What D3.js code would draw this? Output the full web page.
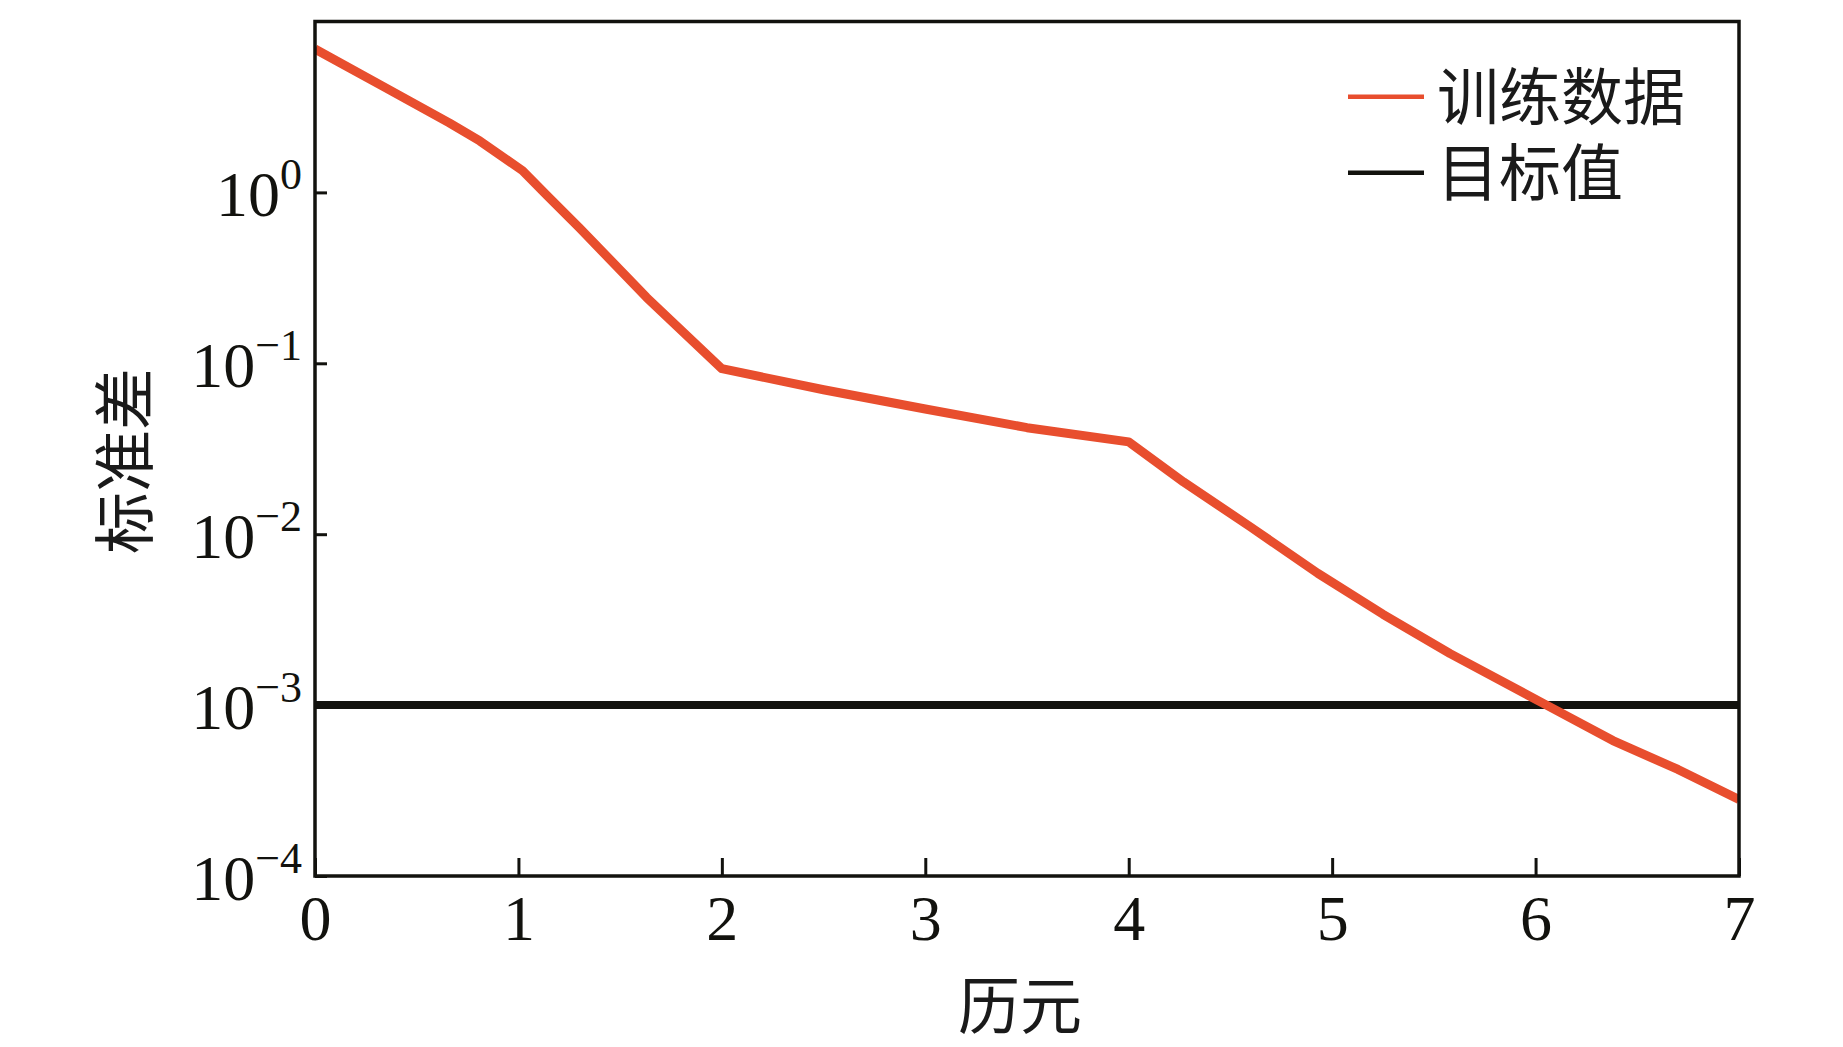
<!DOCTYPE html>
<html>
<head>
<meta charset="utf-8">
<script src="https://cdn.jsdelivr.net/npm/d3@7"></script>
<style>
  body { margin: 0; background: #fff; }
</style>
</head>
<body>
<script>
// values
var epochs   = [0, 0.33, 0.66, 0.81, 1.02, 1.14, 1.3, 1.63, 2.0, 2.5, 3.0, 3.5, 4.0, 4.27, 4.6, 4.93, 5.25, 5.58, 6.04, 6.38, 6.7, 7.0];
var trainStd = [6.9, 4.2, 2.55, 2.0, 1.34, 0.96, 0.62, 0.243, 0.093, 0.070, 0.054, 0.042, 0.0347, 0.0202, 0.011, 0.0059, 0.0034, 0.0020, 0.00102, 0.00062, 0.00042, 0.00028];
var targetValue = 0.001;

var xTicks   = [0, 1, 2, 3, 4, 5, 6, 7];
var yTicks   = [1, 0.1, 0.01, 0.001, 0.0001];
var yTickExp = ["0", "\u22121", "\u22122", "\u22123", "\u22124"];

var seriesNames = ["训练数据", "目标值"];
var xTitle = "历元";
var yTitle = "标准差";

var W = 1843, H = 1047;
var margin = {top: 21.5, right: 104, bottom: 171, left: 315};
var width = W - margin.left - margin.right;
var height = H - margin.top - margin.bottom;

var red = "#e84e2e", ink = "#12120e";
var serif = "'Liberation Serif', 'Times New Roman', serif";
var cjk = "'Noto Sans CJK SC', sans-serif";

var svg = d3.select("body").append("svg")
    .attr("width", W)
    .attr("height", H);

var g = svg.append("g")
    .attr("transform", "translate(" + margin.left + "," + margin.top + ")");

var x = d3.scaleLinear().domain([0, 7]).range([0, width]);
var y = d3.scaleLog().domain([1e-4, 10]).range([height, 0]);

g.append("clipPath").attr("id", "plotclip")
  .append("rect")
    .attr("width", width)
    .attr("height", height);

// x axis, ticks pointing inward
var xAxis = g.append("g")
    .attr("transform", "translate(0," + height + ")")
    .call(d3.axisBottom(x).tickValues(xTicks).tickSizeInner(-18).tickSizeOuter(0).tickFormat(d3.format("d")));
xAxis.select(".domain").remove();
xAxis.selectAll(".tick line").attr("stroke", ink).attr("stroke-width", 3);
xAxis.selectAll(".tick text")
    .attr("y", 64)
    .attr("dy", null)
    .attr("fill", ink)
    .attr("font-family", serif)
    .attr("font-size", 64);

// y axis, powers of ten
var yAxis = g.append("g")
    .call(d3.axisLeft(y).tickValues(yTicks).tickSizeInner(-12).tickSizeOuter(0).tickFormat(""));
yAxis.select(".domain").remove();
yAxis.selectAll(".tick line").attr("stroke", ink).attr("stroke-width", 3);
yAxis.selectAll(".tick text").remove();

var ylab = yAxis.selectAll(".tick").append("text")
    .attr("x", -13)
    .attr("y", 23)
    .attr("text-anchor", "end")
    .attr("fill", ink)
    .attr("font-family", serif);
ylab.append("tspan")
    .attr("font-size", 64)
    .text("10");
ylab.append("tspan")
    .attr("font-size", 44)
    .attr("dy", -27)
    .text(function(d, i) { return yTickExp[i]; });

// target line
g.append("line")
    .attr("clip-path", "url(#plotclip)")
    .attr("x1", 0)
    .attr("x2", width)
    .attr("y1", y(targetValue))
    .attr("y2", y(targetValue))
    .attr("stroke", ink)
    .attr("stroke-width", 8);

// training curve
var line = d3.line()
    .x(function(d, i) { return x(epochs[i]); })
    .y(function(d) { return y(d); });

g.append("path")
    .datum(trainStd)
    .attr("clip-path", "url(#plotclip)")
    .attr("d", line)
    .attr("fill", "none")
    .attr("stroke", red)
    .attr("stroke-width", 9)
    .attr("stroke-linejoin", "round");

// frame
g.append("rect")
    .attr("width", width)
    .attr("height", height)
    .attr("fill", "none")
    .attr("stroke", ink)
    .attr("stroke-width", 3.5);

// legend
var legend = g.append("g")
    .attr("transform", "translate(" + (1348 - margin.left) + "," + (96.7 - margin.top) + ")");
var legendColors = [red, ink];
var item = legend.selectAll("g")
    .data(seriesNames)
    .enter().append("g")
    .attr("transform", function(d, i) { return "translate(0," + (i * 76) + ")"; });
item.append("line")
    .attr("x1", 0)
    .attr("x2", 76)
    .attr("stroke", function(d, i) { return legendColors[i]; })
    .attr("stroke-width", 4.5);
item.append("text")
    .attr("x", 89)
    .attr("y", 23)
    .attr("fill", "#1a1a1a")
    .attr("font-family", cjk)
    .attr("font-size", 62)
    .text(function(d) { return d; });

// axis titles
svg.append("text")
    .attr("x", 1020)
    .attr("y", 1029)
    .attr("text-anchor", "middle")
    .attr("fill", "#1a1a1a")
    .attr("font-family", cjk)
    .attr("font-size", 62)
    .text(xTitle);

svg.append("text")
    .attr("transform", "translate(148,461) rotate(-90)")
    .attr("text-anchor", "middle")
    .attr("fill", "#1a1a1a")
    .attr("font-family", cjk)
    .attr("font-size", 62)
    .text(yTitle);
</script>
</body>
</html>
